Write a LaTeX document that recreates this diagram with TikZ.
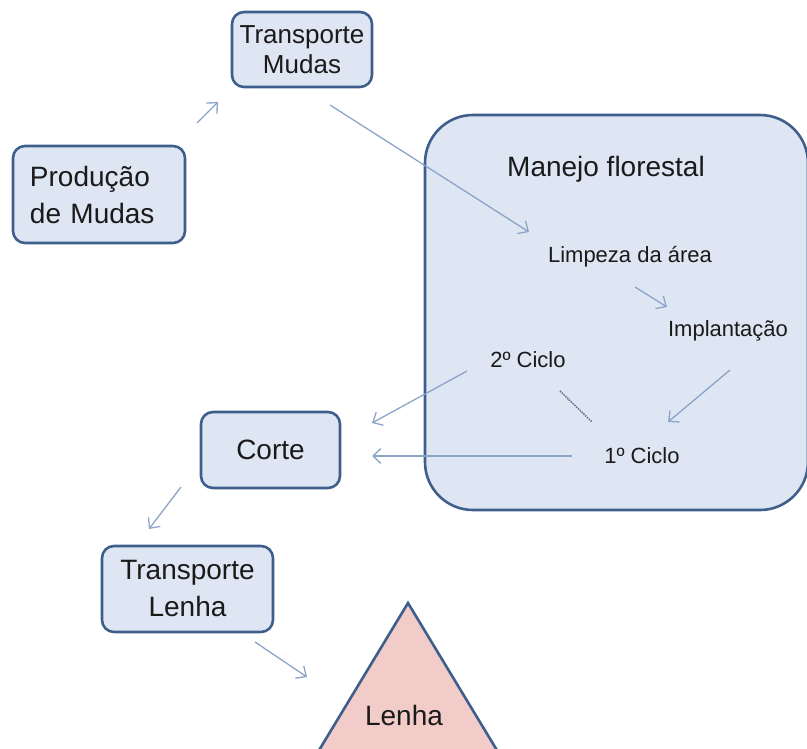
\documentclass[tikz,border=0pt]{standalone}
\usepackage{fontspec}
\setmainfont{Liberation Sans}
\usetikzlibrary{arrows.meta}
\definecolor{boxfill}{HTML}{DDE6F2}
\definecolor{boxline}{HTML}{3E5F8C}
\definecolor{flow}{HTML}{8CA4C8}
\definecolor{ink}{HTML}{1A1A1A}
\definecolor{woodfill}{HTML}{F2CCC9}
\definecolor{cycleline}{HTML}{5B7092}

\begin{document}
\begin{tikzpicture}[x=1pt,y=-1pt,
  stage/.style={draw=boxline, fill=boxfill, line width=2.6pt,
    rounded corners=12pt, inner sep=0pt, align=center, text=ink,
    font=\fontsize{28}{37}\selectfont},
  phase/.style={anchor=base, inner sep=0pt, text=ink,
    font=\fontsize{22}{26}\selectfont},
  flowarrow/.style={draw=flow, line width=1.3pt,
    -{Straight Barb[length=8pt,width=15pt,line width=1.3pt]}},
  cyclelink/.style={draw=cycleline, line width=1.5pt, densely dotted}]

\useasboundingbox (0,0) rectangle (807,749);
\clip (0,0) rectangle (807,749);

% forest management block
\node[draw=boxline, fill=boxfill, line width=2.6pt, rounded corners=48pt,
      minimum width=383pt, minimum height=395pt, inner sep=0pt]
      (manejo) at (616.5,312.5) {};
\node[phase, font=\fontsize{28}{32}\selectfont] (title) at (606,177) {Manejo florestal};
\node[phase] (limpeza) at (630,262) {Limpeza da área};
\node[phase] (implant) at (728,337) {Implantação};
\node[phase] (ciclo2) at (528,367) {2º Ciclo};
\node[phase] (ciclo1) at (642,463) {1º Ciclo};

% process stages
\node[stage, minimum width=140pt, minimum height=75pt,
      font=\fontsize{26}{30}\selectfont] (tmudas) at (302,49.5) {Transporte\\Mudas};
\node[stage, minimum width=172pt, minimum height=97pt, text width=138pt, align=left]
      (prod) at (99,194.5) {Produção\\de Mudas};
\node[stage, minimum width=139pt, minimum height=76pt] (corte) at (270.5,450) {Corte};
\node[stage, minimum width=171pt, minimum height=86pt] (tlenha) at (187.5,589) {Transporte\\Lenha};

% final product
\draw[draw=boxline, fill=woodfill, line width=2.6pt, line join=miter]
  (408,603) -- (521,790) -- (295,790) -- cycle;
\node[anchor=base, inner sep=0pt, text=ink, font=\fontsize{28}{34}\selectfont]
  (lenha) at (404,725) {Lenha};

% arrow end points
\coordinate (p1) at (197,123);  \coordinate (q1) at (218,102);
\coordinate (p2) at (330,105);  \coordinate (q2) at (529,232);
\coordinate (p3) at (635,287);  \coordinate (q3) at (667,307);
\coordinate (p4) at (730,370);  \coordinate (q4) at (668,422);
\coordinate (p5) at (467,371);  \coordinate (q5) at (372,423);
\coordinate (p6) at (572,456);  \coordinate (q6) at (372,456);
\coordinate (p7) at (181,487);  \coordinate (q7) at (149,529);
\coordinate (p8) at (255,642);  \coordinate (q8) at (307,677);
\coordinate (d1) at (560,391);  \coordinate (d2) at (592,422);

\draw[flowarrow] (p1) -- (q1);
\draw[flowarrow] (p2) -- (q2);
\draw[flowarrow] (p3) -- (q3);
\draw[flowarrow] (p4) -- (q4);
\draw[flowarrow] (p5) -- (q5);
\draw[flowarrow] (p6) -- (q6);
\draw[flowarrow] (p7) -- (q7);
\draw[flowarrow] (p8) -- (q8);
\draw[cyclelink] (d1) -- (d2);

\end{tikzpicture}
\end{document}
